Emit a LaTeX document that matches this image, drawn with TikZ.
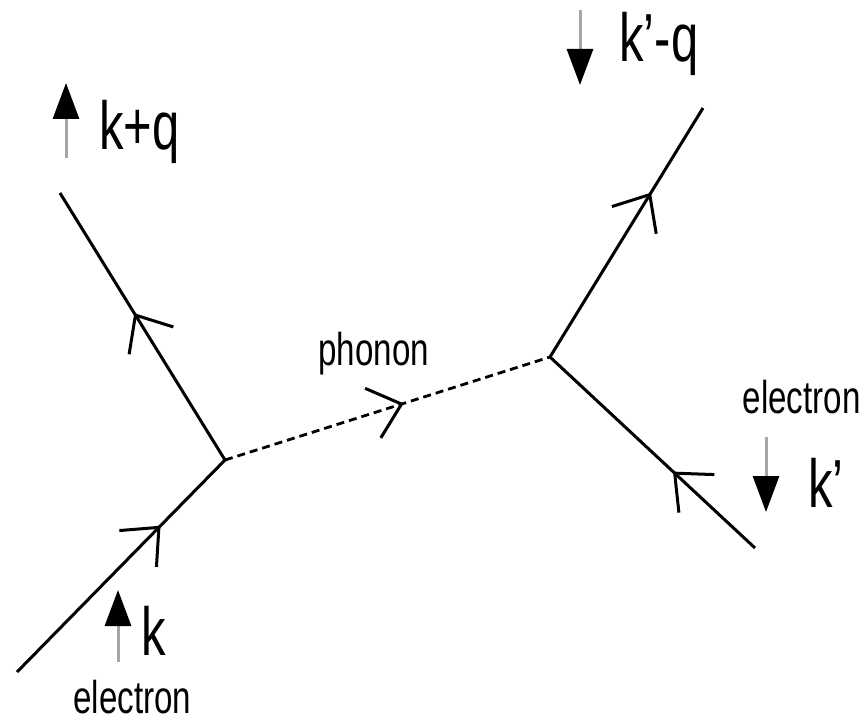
\documentclass[tikz,border=0pt]{standalone}
\usepackage{fontspec}
\newfontfamily\lblfont[FakeStretch=0.72]{Liberation Sans}
\usetikzlibrary{arrows.meta,decorations.markings}

\begin{document}
\begin{tikzpicture}[x=0.5pt, y=-0.5pt, line width=1.5pt,
  fermion/.style={postaction={decorate}, decoration={markings, mark=at position #1 with {\arrow{Straight Barb[length=15pt,width=26pt,line width=1.5pt]}}}},
  phonon/.style={fermion=#1, line width=1.4pt, dash pattern=on 4pt off 2.5pt},
  spin/.style={draw=gray!70, line width=1.5pt, -{Triangle[length=18pt,width=13pt,color=black]}},
  biglbl/.style={font=\lblfont\fontsize{34}{40}\selectfont, inner sep=0pt, anchor=base west},
  smalllbl/.style={font=\lblfont\fontsize{23}{27}\selectfont, inner sep=0pt, anchor=base west}]
\useasboundingbox (0,0) rectangle (868,722);
% vertices and free ends
\coordinate (v1) at (225,460); \coordinate (v2) at (550,357);
\coordinate (in1) at (17,672); \coordinate (out1) at (60,193);
\coordinate (in2) at (755,548); \coordinate (out2) at (703,108);
% propagators
\draw[fermion=0.69] (in1) -- (v1);
\draw[fermion=0.55] (v1) -- (out1);
\draw[phonon=0.55] (v1) -- (v2);
\draw[fermion=0.40] (in2) -- (v2);
\draw[fermion=0.66] (v2) -- (out2);
% spins
\coordinate (s1a) at (66,158); \coordinate (s1b) at (66,83);
\coordinate (s2a) at (580,10); \coordinate (s2b) at (580,85);
\coordinate (s3a) at (766,437); \coordinate (s3b) at (766,512);
\coordinate (s4a) at (118,662); \coordinate (s4b) at (118,590);
\draw[spin] (s1a) -- (s1b); \draw[spin] (s2a) -- (s2b);
\draw[spin] (s3a) -- (s3b); \draw[spin] (s4a) -- (s4b);
% labels
\node[biglbl] (kq) at (98,150) {k+q};
\node[biglbl] (kpq) at (618,62) {k’-q};
\node[biglbl] (kp) at (807,507) {k’};
\node[biglbl] (k) at (140,655) {k};
\node[smalllbl, anchor=base east] (eright) at (862,413) {electron};
\node[smalllbl] (eleft) at (72,713) {electron};
\node[smalllbl] (ph) at (317,365) {phonon};
\end{tikzpicture}
\end{document}
